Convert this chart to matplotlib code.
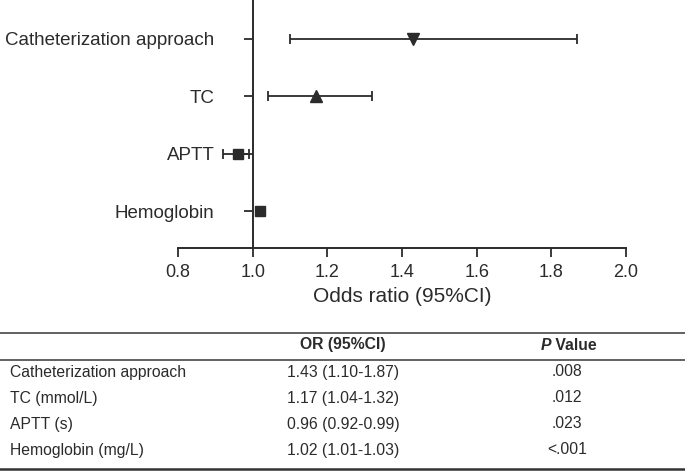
import numpy as np
import matplotlib
matplotlib.use("Agg")
import matplotlib.pyplot as plt

plt.rcParams['font.family'] = ['Liberation Sans', 'DejaVu Sans']

plot_labels = ['Catheterization approach', 'TC', 'APTT', 'Hemoglobin']
table_labels = ['Catheterization approach', 'TC (mmol/L)', 'APTT (s)',
                'Hemoglobin (mg/L)']
or_vals = np.array([1.43, 1.17, 0.96, 1.02])
ci_lo = np.array([1.10, 1.04, 0.92, 1.01])
ci_hi = np.array([1.87, 1.32, 0.99, 1.03])
p_vals = ['.008', '.012', '.023', '<.001']
xticks = [0.8, 1.0, 1.2, 1.4, 1.6, 1.8, 2.0]

markers = ['v', '^', 's', 's']
dark = '#2b2b2b'

fig = plt.figure(figsize=(6.85, 4.72), dpi=100)

# forest plot
ax = fig.add_axes([178/685, 1 - 248/472, 448/685, 248/472])
ypos = np.arange(len(or_vals), 0, -1)

ax.errorbar(or_vals, ypos, xerr=[or_vals - ci_lo, ci_hi - or_vals],
            fmt='none', ecolor=dark, elinewidth=1.3, capsize=3.8,
            capthick=1.3, zorder=2)
for k in range(len(or_vals)):
    ax.plot(or_vals[k], ypos[k], marker=markers[k], color=dark,
            markersize=8 if k < 2 else 7.5, linestyle='none', zorder=3)

ax.set_xlim(0.8, 2.0)
ax.set_ylim(0.355, 4.68)
ax.set_xticks(xticks)
ax.set_xticklabels(['%.1f' % v for v in xticks])
ax.set_yticks(ypos)
ax.set_yticklabels(plot_labels)

for s in ['top', 'right']:
    ax.spines[s].set_visible(False)
ax.spines['left'].set_position(('data', 1.0))
for s in ['left', 'bottom']:
    ax.spines[s].set_linewidth(1.4)
    ax.spines[s].set_color(dark)

ax.tick_params(axis='y', length=6.5, width=1.3, pad=21, labelsize=13.5,
               colors=dark)
ax.tick_params(axis='x', length=6.5, width=1.3, pad=5, labelsize=13,
               colors=dark)
ax.set_xlabel('Odds ratio (95%CI)', fontsize=15, color=dark, labelpad=4)
ax.patch.set_visible(False)

# table underneath, drawn in pixel coords
tab = fig.add_axes([0, 0, 1, 1], zorder=-1)
tab.set_xlim(0, 685)
tab.set_ylim(472, 0)
tab.axis('off')

tab.axhline(333, color='#555555', lw=1.3)
tab.axhline(359.5, color='#555555', lw=1.3)
tab.axhline(469, color='#333333', lw=1.8)

fs = 11.3
tab.text(343, 345, 'OR (95%CI)', ha='center', va='center', fontsize=fs,
         fontweight='bold', color=dark)
tab.text(551, 345, 'P', ha='right', va='center', fontsize=fs,
         fontweight='bold', fontstyle='italic', color=dark)
tab.text(551, 345, ' Value', ha='left', va='center', fontsize=fs,
         fontweight='bold', color=dark)

row_y = 372 + 26*np.arange(len(table_labels))
for k in range(len(table_labels)):
    tab.text(10, row_y[k], table_labels[k], ha='left', va='center',
             fontsize=fs, color=dark)
    tab.text(343, row_y[k], '%.2f (%.2f-%.2f)' % (or_vals[k], ci_lo[k], ci_hi[k]),
             ha='center', va='center', fontsize=fs, color=dark)
    tab.text(567, row_y[k], p_vals[k], ha='center', va='center',
             fontsize=fs, color=dark)

fig.savefig('out.png', dpi=100)
